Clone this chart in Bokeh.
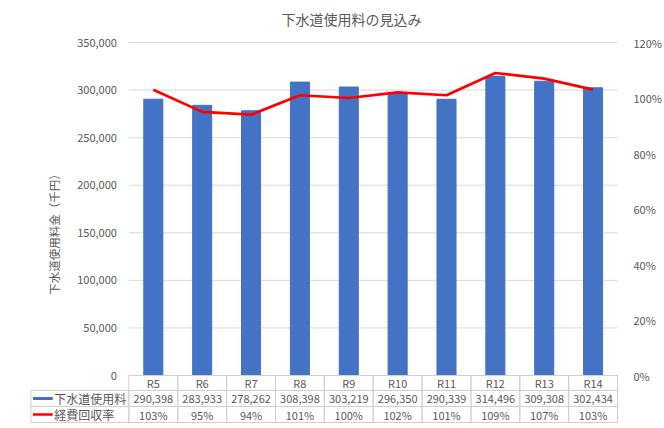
from bokeh.plotting import figure
from bokeh.models import (Range1d, LinearAxis, FixedTicker,
                          NumeralTickFormatter, PrintfTickFormatter)
from bokeh.core.properties import value
from bokeh.embed import file_html
from bokeh.resources import INLINE

# ---- data ----
categories = ["R5", "R6", "R7", "R8", "R9", "R10", "R11", "R12", "R13", "R14"]
fees = [290398, 283933, 278262, 308398, 303219, 296350, 290339, 314496, 309308, 302434]
rates = [103, 95, 94, 101, 100, 102, 101, 109, 107, 103]
left_ticks = [0, 50000, 100000, 150000, 200000, 250000, 300000, 350000]
right_ticks = [0, 20, 40, 60, 80, 100, 120]
series_names = ["下水道使用料", "経費回収率"]
title_text = "下水道使用料の見込み"
y_label = "下水道使用料金（千円）"

FONT = "Noto Sans CJK JP"
GREY = "#595959"
BORDER = "#d0d0d0"
GRID = "#d9d9d9"
BLUE = "#4472c4"
RED = "#ff0000"

# ---- layout helpers (pixels -> data units) ----
n = len(categories)
xs = [i + 0.5 for i in range(n)]          # category centres on the x scale
y_max = 350000
pct_max = 120
frame_px = 333.0                  # pixels between 0 and 350,000
k = y_max / frame_px              # data units per pixel (left axis)
kp = pct_max / frame_px           # data units per pixel (right axis)
rows_px = [0, 15, 31, 47]         # table row boundaries below zero, px
below = 53.0                      # frame extends this many px below zero
above = 8.0                       # frame extends this many px above the top tick
legend_w = 2.004                  # width of the table's legend column (category units)

p = figure(width=664, height=428,
           x_range=Range1d(-legend_w - 0.03, n + 0.02),
           y_range=Range1d(-below * k, y_max + above * k),
           output_backend="svg", toolbar_location=None,
           x_axis_location=None, y_axis_location=None,
           min_border_left=29, min_border_right=40,
           min_border_top=34, min_border_bottom=0)
p.outline_line_color = None
p.background_fill_color = "white"
p.grid.visible = False

p.title.text = title_text
p.title.align = "left"
p.title.offset = 252
p.title.standoff = 12
p.title.text_font = FONT
p.title.text_font_size = "14px"
p.title.text_font_style = "normal"
p.title.text_color = GREY

# left axis, pinned at the left edge of the first category
ya = LinearAxis(ticker=FixedTicker(ticks=left_ticks),
                formatter=NumeralTickFormatter(format="0,0"),
                fixed_location=0)
ya.axis_line_color = None
ya.major_tick_line_color = None
ya.minor_tick_line_color = None
ya.major_label_standoff = 6
ya.major_label_text_font = FONT
ya.major_label_text_font_size = "11px"
ya.major_label_text_color = GREY
ya.axis_label = y_label
ya.axis_label_text_font = FONT
ya.axis_label_text_font_size = "11.5px"
ya.axis_label_text_font_style = "normal"
ya.axis_label_text_color = GREY
ya.axis_label_standoff = 12
p.add_layout(ya, "left")

p.extra_y_ranges = {"pct": Range1d(-below * kp, pct_max + above * kp)}
ra = LinearAxis(y_range_name="pct", ticker=FixedTicker(ticks=right_ticks),
                formatter=PrintfTickFormatter(format="%d%%"))
ra.axis_line_color = None
ra.major_tick_line_color = None
ra.minor_tick_line_color = None
ra.major_label_standoff = 9
ra.major_label_text_font = FONT
ra.major_label_text_font_size = "11px"
ra.major_label_text_color = GREY
p.add_layout(ra, "right")

# horizontal gridlines over the category area only
p.segment(x0=[0] * len(left_ticks), x1=[n] * len(left_ticks),
          y0=left_ticks, y1=left_ticks, line_color=GRID, line_width=1)

p.vbar(x=xs, top=fees, width=0.39, fill_color=BLUE, line_color=BLUE)
p.line(x=xs, y=rates, y_range_name="pct", line_color=RED, line_width=2.7)

# ---- data table ----
tops = [-rows_px[i] * k for i in range(3)]
bots = [-rows_px[i + 1] * k for i in range(3)]
mids = [(a + b) / 2 for a, b in zip(tops, bots)]
heights = [a - b for a, b in zip(tops, bots)]

for r in range(3):
    p.rect(x=xs, y=[mids[r]] * n, width=1, height=heights[r],
           fill_color=None, line_color=BORDER, line_width=1)
p.rect(x=[-legend_w / 2] * 2, y=[mids[1], mids[2]], width=legend_w,
       height=[heights[1], heights[2]], fill_color=None, line_color=BORDER, line_width=1)

def table_text(texts, row):
    p.text(x=xs, y=[mids[row]] * n, text=texts,
           text_align="center", text_baseline="middle", text_font=value(FONT),
           text_font_size="11px", text_color=GREY)

table_text(categories, 0)
table_text([f"{v:,}" for v in fees], 1)
table_text([f"{r}%" for r in rates], 2)

# legend keys and names
p.rect(x=[-1.76], y=[mids[1]], width=0.405, height=3 * k, fill_color=BLUE, line_color=None)
p.segment(x0=[-1.964], x1=[-1.559], y0=[mids[2]], y1=[mids[2]],
          line_color=RED, line_width=2.5)
p.text(x=[-1.53, -1.53], y=[mids[1], mids[2]], text=series_names,
       text_align="left", text_baseline="middle", text_font=value(FONT),
       text_font_size="12px", text_color=GREY)

open("out.html", "w").write(file_html(p, INLINE))
